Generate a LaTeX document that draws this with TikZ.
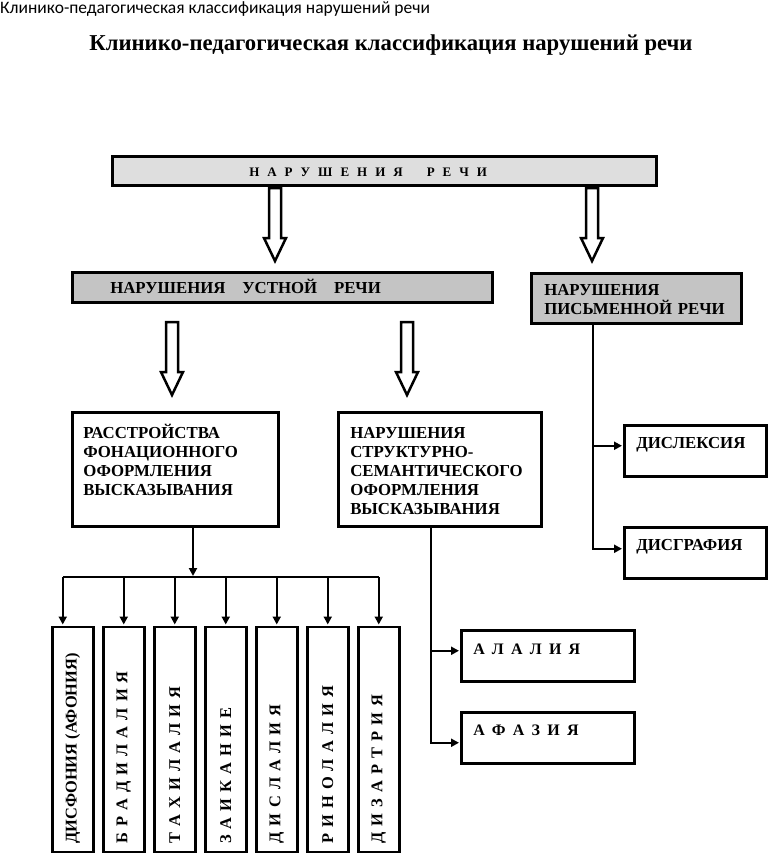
\documentclass[tikz,border=0pt]{standalone}
\usepackage{fontspec}
\setmainfont{Liberation Serif}
\newfontfamily\hdrfont{Carlito}
\usetikzlibrary{calc,arrows.meta}

\definecolor{topgray}{HTML}{DEDEDE}
\definecolor{subgray}{HTML}{C4C4C4}

\tikzset{
    box/.style={draw, line width=2.5pt, anchor=north west, inner ysep=0pt, inner xsep=12pt, align=left, font=\bfseries\fontsize{16.8}{19}\selectfont},
    vbox/.style={draw, line width=2.5pt, rotate=90, anchor=north west, minimum width=225pt, minimum height=41pt, inner sep=0pt, text width=209pt, align=left, font=\bfseries\fontsize{16.4}{19}\selectfont,
                 execute at begin node={\spaceskip=6.1pt\relax}},
    conn/.style={line width=2.5pt, shorten >=1pt, -{Triangle[length=8pt,width=8pt]}},
    line/.style={line width=2.5pt},
    hollow/.style={draw, line width=2.5pt, fill=white, line join=miter},
    spaced/.style={execute at begin node={\spaceskip=7.2pt\relax}},
}

\begin{document}
\begin{tikzpicture}[x=1pt, y=-1pt]
    \fill [white] (0,0) rectangle (768,856);
    \useasboundingbox (0,0) rectangle (768,856);

    % headings
    \node [anchor=base west, inner sep=0pt, font=\hdrfont\fontsize{17.5}{20}\selectfont] (hdr) at (0,14) {Клинико-педагогическая классификация нарушений речи};
    \node [anchor=base, inner sep=0pt, font=\bfseries\fontsize{22.7}{26}\selectfont] (title) at (391,51) {Клинико-педагогическая классификация нарушений речи};

    % upper levels
    \node [box, fill=topgray, inner xsep=137pt, text width=270pt, text height=20pt, text depth=9pt, font=\bfseries\fontsize{13}{15}\selectfont,
           execute at begin node={\spaceskip=8pt\relax}] (speech) at (111,155) {Н А Р У Ш Е Н И Я \ \ Р Е Ч И};
    \node [box, fill=subgray, inner xsep=38pt, text width=344pt, text height=21pt, text depth=9pt] (oral) at (71,271) {НАРУШЕНИЯ~~ УСТНОЙ~~ РЕЧИ};
    \node [box, fill=subgray, inner xsep=13pt, text width=184pt, text height=22pt, text depth=28pt] (written) at (530,272) {НАРУШЕНИЯ\\ПИСЬМЕННОЙ~РЕЧИ};

    \node [box, inner xsep=11pt, text width=184pt, text height=26pt, text depth=88pt] (phon) at (71,411) {РАССТРОЙСТВА\\ФОНАЦИОННОГО\\ОФОРМЛЕНИЯ\\ВЫСКАЗЫВАНИЯ};
    \node [box, text width=179pt, text height=26pt, text depth=88pt] (struct) at (337,411) {НАРУШЕНИЯ\\СТРУКТУРНО-\\СЕМАНТИЧЕСКОГО\\ОФОРМЛЕНИЯ\\ВЫСКАЗЫВАНИЯ};

    % hollow arrows
    \foreach \ax/\ay in {275/188, 592/188, 172/322, 407/322}
        \draw [hollow] (\ax-6,\ay) -- (\ax-6,\ay+50) -- (\ax-11,\ay+50) -- (\ax,\ay+73) -- (\ax+11,\ay+50) -- (\ax+6,\ay+50) -- (\ax+6,\ay) -- cycle;

    % written speech
    \node [box, text width=118pt, text height=23pt, text depth=28pt] (dyslex) at (623,424) {ДИСЛЕКСИЯ};
    \node [box, text width=118pt, text height=23pt, text depth=28pt] (dysgraph) at (623,526) {ДИСГРАФИЯ};
    \coordinate (wspine) at ([xshift=63pt]written.south west);
    \coordinate (dlin) at ([yshift=5pt]dyslex.west);
    \coordinate (dgin) at ([yshift=4pt]dysgraph.west);
    \draw [conn] (wspine) |- (dgin);
    \draw [conn] (wspine |- dlin) -- (dlin);

    % structural-semantic
    \node [box, spaced, text width=149pt, text height=24pt, text depth=27pt, font=\bfseries\fontsize{16}{19}\selectfont] (alal) at (460,629) {А Л А Л И Я};
    \node [box, spaced, text width=149pt, text height=23pt, text depth=28pt, font=\bfseries\fontsize{16}{19}\selectfont] (afaz) at (460,711) {А Ф А З И Я};
    \coordinate (sspine) at ([xshift=-9pt]struct.south);
    \coordinate (alalin) at ([yshift=5pt]alal.west);
    \coordinate (afazin) at ([yshift=-5pt]afaz.west);
    \draw [conn] (sspine) |- (afazin);
    \draw [conn] (sspine |- alalin) -- (alalin);

    % phonation
    \foreach \i/\txt in {1/{\spaceskip=0pt ДИСФОНИЯ (АФОНИЯ)}, 2/{Б Р А Д И Л А Л И Я}, 3/{Т А Х И Л А Л И Я}, 4/{З А И К А Н И Е}, 5/{Д И С Л А Л И Я}, 6/{Р И Н О Л А Л И Я}, 7/{Д И З А Р Т Р И Я}}
        \node [vbox] (v\i) at ({51*\i},853) {\txt};
    \coordinate (bar) at (193,577);
    \draw [conn] (phon.south -| bar) -- (bar);
    \draw [line] ([xshift=-10pt]v1.east |- bar) -- (v7.east |- bar);
    \draw [conn] ([xshift=-10pt]v1.east |- bar) -- ([xshift=-10pt]v1.east);
    \foreach \i in {2,...,7}
        \draw [conn] (v\i.east |- bar) -- (v\i.east);
\end{tikzpicture}
\end{document}
